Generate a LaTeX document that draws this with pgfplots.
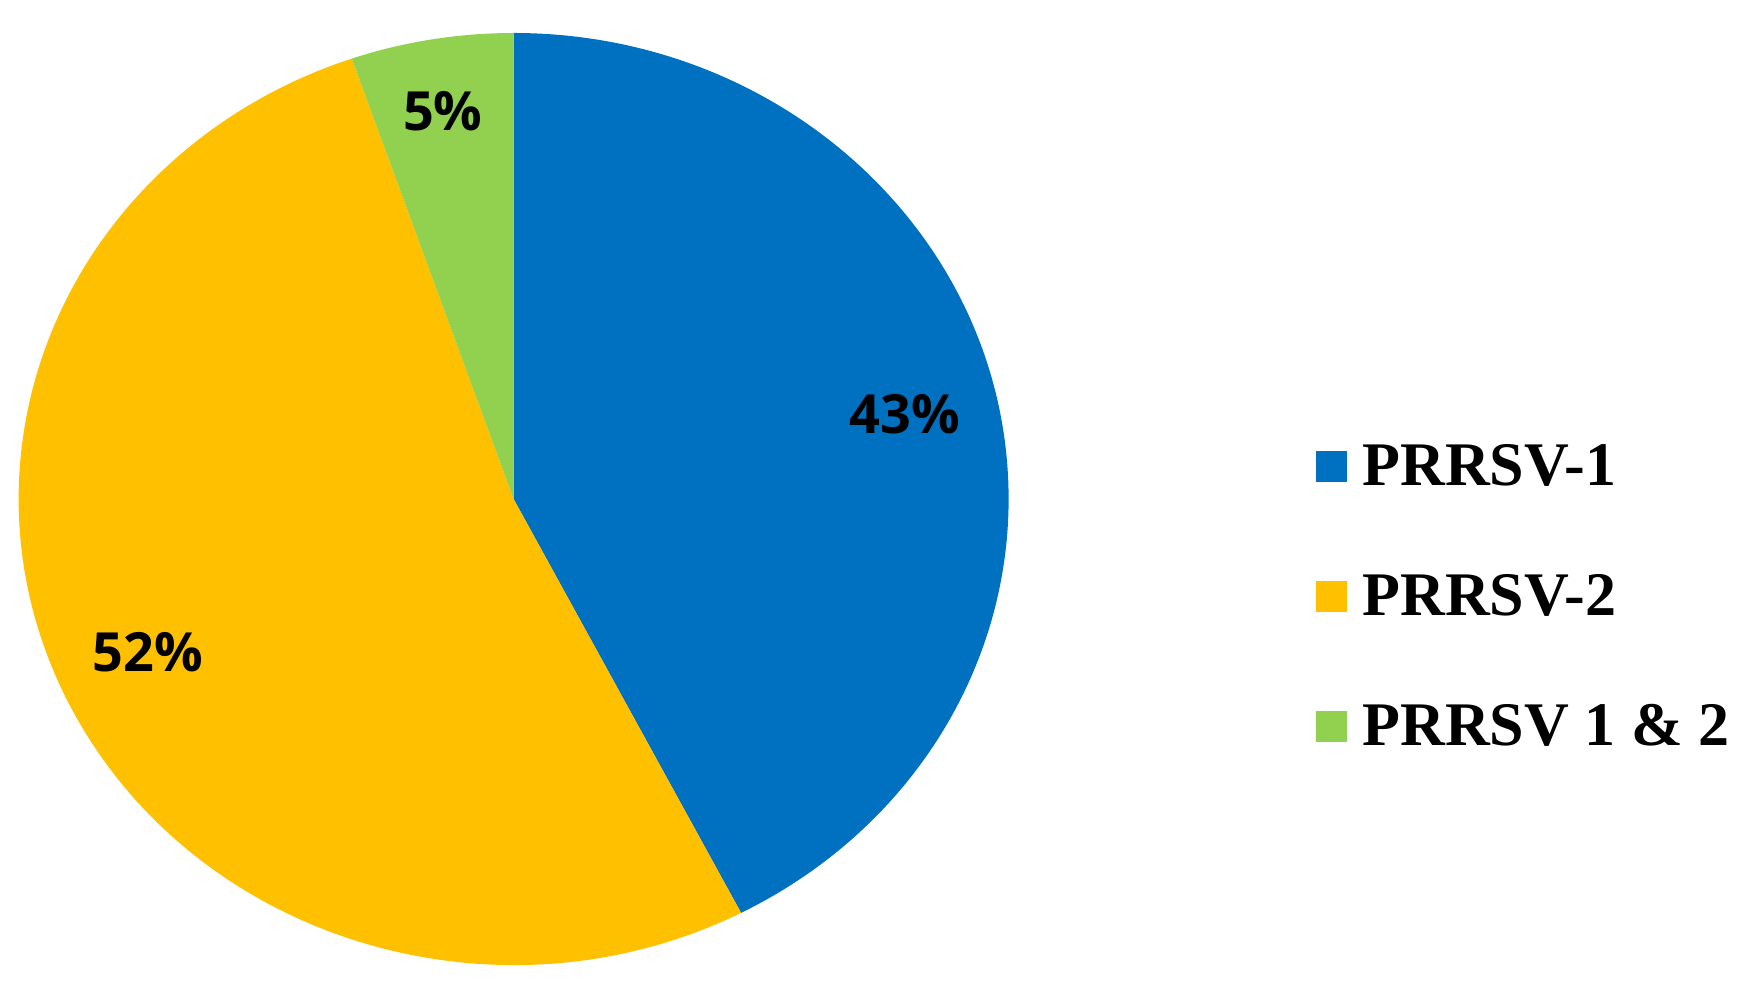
\documentclass[border=0pt]{standalone}
\usepackage{fontspec}
\setmainfont{Liberation Serif}
\newfontfamily\lblfont{Open Sans}
\usepackage{pgfplots}
\pgfplotsset{compat=1.18}
\definecolor{c1}{HTML}{0070C0}
\definecolor{c2}{HTML}{FFC000}
\definecolor{c3}{HTML}{92D050}
% shares (percent)
\def\vA{42.4}% PRRSV-1
\def\vB{52.3}% PRRSV-2
\def\vC{5.3}% PRRSV 1 & 2
\pgfmathsetmacro\aA{90}
\pgfmathsetmacro\aB{\aA-\vA*3.6}
\pgfmathsetmacro\aC{\aB-\vB*3.6}
\pgfmathsetmacro\aD{\aC-\vC*3.6}
\pgfmathsetmacro\xA{cos(\aA)}\pgfmathsetmacro\yA{sin(\aA)}
\pgfmathsetmacro\xB{cos(\aB)}\pgfmathsetmacro\yB{sin(\aB)}
\pgfmathsetmacro\xC{cos(\aC)}\pgfmathsetmacro\yC{sin(\aC)}
\def\RX{247.5pt}
\def\RY{233pt}
\begin{document}
\begin{tikzpicture}
\useasboundingbox (0,0) rectangle (869pt,492pt);
\begin{axis}[at={(256.8pt,242.5pt)}, anchor=center, scale only axis,
  width=495pt, height=466pt, xmin=-1, xmax=1, ymin=-1, ymax=1,
  hide axis, clip=false,
  legend image code/.code={\fill[#1, draw=none] (0pt,-8.3pt) rectangle (15.5pt,7.2pt);},
  legend cell align=left,
  legend style={at={(1.31,0.5578)}, anchor=north west, draw=none, fill=none,
    inner sep=0pt, outer sep=0pt, row sep=45pt,
    font=\bfseries\fontsize{31}{32}\selectfont,
    nodes={inner sep=0pt, outer sep=0pt, text height=20pt, text depth=0pt}},
  /tikz/every odd column/.append style={column sep=8pt},
]
\fill[c1] (axis cs:0,0) -- (axis cs:\xA,\yA) arc[start angle=\aA, end angle=\aB, x radius=\RX, y radius=\RY] -- cycle;
\fill[c2] (axis cs:0,0) -- (axis cs:\xB,\yB) arc[start angle=\aB, end angle=\aC, x radius=\RX, y radius=\RY] -- cycle;
\fill[c3] (axis cs:0,0) -- (axis cs:\xC,\yC) arc[start angle=\aC, end angle=\aD, x radius=\RX, y radius=\RY] -- cycle;
\node[font=\lblfont\bfseries\fontsize{27}{29}\selectfont] at (axis cs:0.790,0.183) {43\%};
\node[font=\lblfont\bfseries\fontsize{27}{29}\selectfont] at (axis cs:-0.739,-0.328) {52\%};
\node[font=\lblfont\bfseries\fontsize{27}{29}\selectfont] at (axis cs:-0.143,0.833) {5\%};
\addlegendimage{fill=c1}
\addlegendentry{PRRSV-1}
\addlegendimage{fill=c2}
\addlegendentry{PRRSV-2}
\addlegendimage{fill=c3}
\addlegendentry{PRRSV 1 \& 2}
\end{axis}
\end{tikzpicture}
\end{document}
